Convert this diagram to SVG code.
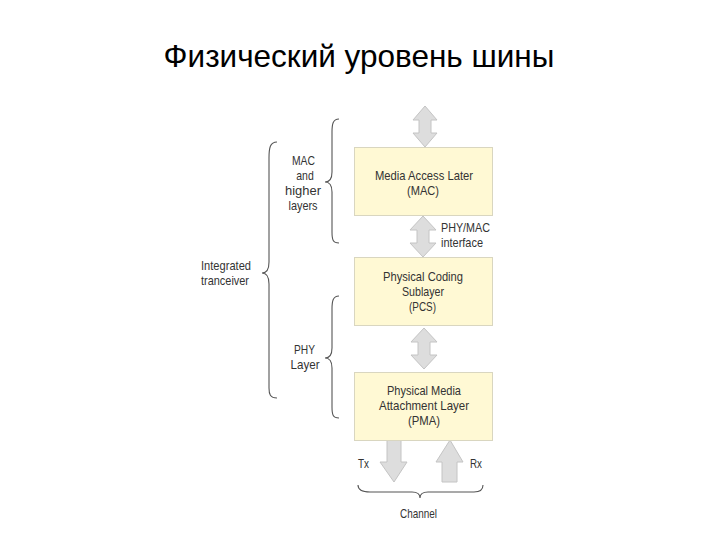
<svg xmlns="http://www.w3.org/2000/svg" width="720" height="540" viewBox="0 0 720 540">
<style>
.t{font-family:"Liberation Sans",Arial,sans-serif;font-size:13.5px;fill:#333333}
.c{text-anchor:middle}
.box{fill:#fff9d4;stroke:#d9d6c0;stroke-width:1}
.arr{fill:#dddddd;stroke:#c4c4c4;stroke-width:1}
.br{fill:none;stroke:#555;stroke-width:1.1}
</style>
<rect width="720" height="540" fill="#fff"/>
<text x="359" y="67" text-anchor="middle" font-family="Liberation Sans,Arial,sans-serif" font-size="31.5" fill="#000">Физический уровень шины</text>
<g id="connectors">
<polygon class="arr" points="425,106 437,120 431,120 431,133 437,133 425,147 413,133 419,133 419,120 413,120"/>
<polygon class="arr" points="423,216 436,230 429,230 429,243 436,243 423,257 410,243 417,243 417,230 410,230"/>
<polygon class="arr" points="424,328 437,342 430,342 430,355 437,355 424,369 411,355 418,355 418,342 411,342"/>
<polygon class="arr" points="387,440 401,440 401,462 407,462 394,482 380,462 387,462"/>
<polygon class="arr" points="442,482 457,482 457,462 463,462 450,440 436,462 442,462"/>
<path class="br" d="M339,119 C333,119 332,124 332,132 L332,172 C332,178 330,182 325,182 C330,182 332,186 332,192 L332,232 C332,240 333,243 339,243"/>
<path class="br" d="M339,296 C333,296 332,301 332,309 L332,348 C332,354 330,358 325,358 C330,358 332,362 332,368 L332,407 C332,415 333,418 339,418"/>
<path class="br" d="M277,142 C270,142 269,148 269,158 L269,262 C269,269 267,273 262,273 C267,273 269,277 269,284 L269,388 C269,394 270,398 277,398"/>
<path class="br" d="M358,485 C358,490 362,492 370,492 L412,492 C417,492 420,494 420,498 C420,494 423,492 428,492 L474,492 C480,492 483,490 483,485"/>
</g>
<g id="mac">
<rect class="box" x="354.5" y="147.5" width="138" height="68"/>
<text class="t c" x="424" y="180" textLength="98" lengthAdjust="spacingAndGlyphs">Media Access Later</text>
<text class="t c" x="423" y="195" textLength="32" lengthAdjust="spacingAndGlyphs">(MAC)</text>
</g>
<g id="pcs">
<rect class="box" x="354.5" y="257.5" width="138" height="68"/>
<text class="t c" x="423" y="281" textLength="80" lengthAdjust="spacingAndGlyphs">Physical Coding</text>
<text class="t c" x="423" y="296" textLength="42" lengthAdjust="spacingAndGlyphs">Sublayer</text>
<text class="t c" x="422.5" y="311" textLength="27" lengthAdjust="spacingAndGlyphs">(PCS)</text>
</g>
<g id="pma">
<rect class="box" x="354.5" y="372.5" width="138" height="68"/>
<text class="t c" x="424" y="395" textLength="74" lengthAdjust="spacingAndGlyphs">Physical Media</text>
<text class="t c" x="424" y="410" textLength="90" lengthAdjust="spacingAndGlyphs">Attachment Layer</text>
<text class="t c" x="424" y="425" textLength="32" lengthAdjust="spacingAndGlyphs">(PMA)</text>
</g>
<g id="labels">
<text class="t c" x="303.5" y="165" textLength="23" lengthAdjust="spacingAndGlyphs">MAC</text>
<text class="t c" x="305" y="180" textLength="17.5" lengthAdjust="spacingAndGlyphs">and</text>
<text class="t c" x="303" y="195" textLength="36" lengthAdjust="spacingAndGlyphs">higher</text>
<text class="t c" x="303" y="210" textLength="29" lengthAdjust="spacingAndGlyphs">layers</text>
<text class="t" x="441" y="232" textLength="49" lengthAdjust="spacingAndGlyphs">PHY/MAC</text>
<text class="t" x="441" y="247" textLength="42" lengthAdjust="spacingAndGlyphs">interface</text>
<text class="t" x="201" y="270" textLength="50" lengthAdjust="spacingAndGlyphs">Integrated</text>
<text class="t" x="201" y="285" textLength="48" lengthAdjust="spacingAndGlyphs">tranceiver</text>
<text class="t c" x="304.5" y="354" textLength="21" lengthAdjust="spacingAndGlyphs">PHY</text>
<text class="t c" x="305" y="369" textLength="29" lengthAdjust="spacingAndGlyphs">Layer</text>
<text class="t" x="358" y="468" textLength="11" lengthAdjust="spacingAndGlyphs">Tx</text>
<text class="t" x="470" y="468" textLength="12" lengthAdjust="spacingAndGlyphs">Rx</text>
<text class="t c" x="418.5" y="518" textLength="37" lengthAdjust="spacingAndGlyphs">Channel</text>
</g>
</svg>
